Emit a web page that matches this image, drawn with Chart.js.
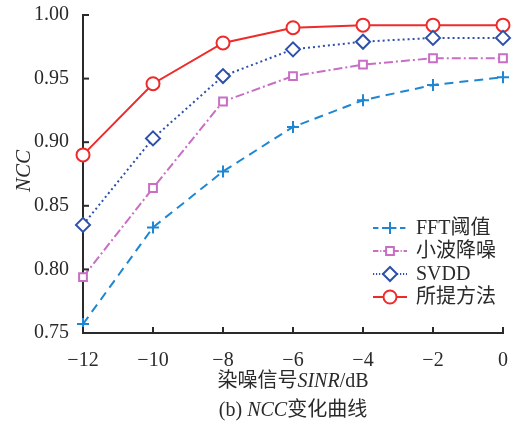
<!DOCTYPE html>
<html>
<head>
<meta charset="utf-8">
<script src="https://cdn.jsdelivr.net/npm/chart.js@4/dist/chart.umd.min.js"></script>
<style>
	body { margin: 0; background: #fff; }
	#wrap { width: 513px; height: 427px; }
</style>
</head>
<body>
<div id="wrap"><canvas id="c"></canvas></div>
<script>
const snr = [-12, -10, -8, -6, -4, -2, 0];
const fftVals = [0.757, 0.833, 0.877, 0.912, 0.933, 0.945, 0.951];
const waveletVals = [0.794, 0.864, 0.932, 0.952, 0.961, 0.966, 0.966];
const svddVals = [0.835, 0.903, 0.952, 0.973, 0.979, 0.982, 0.982];
const proposedVals = [0.890, 0.946, 0.978, 0.990, 0.992, 0.992, 0.992];
const names = ["FFT阈值", "小波降噪", "SVDD", "所提方法"];
const yTicks = [0.75, 0.80, 0.85, 0.90, 0.95, 1.00];

const serif = '"Liberation Serif", "Noto Sans CJK SC", serif';
const ink = '#2a2a2a';

const pts = vals => vals.map((v, i) => ({x: snr[i], y: v}));

const datasets = [
	{
		label: names[0], data: pts(fftVals),
		borderColor: '#1f87d2', borderWidth: 2, borderDash: [9, 6],
		pointStyle: 'cross', pointRadius: 6, pointBorderWidth: 2,
		pointBorderColor: '#1f87d2', pointBackgroundColor: '#1f87d2',
	},
	{
		label: names[1], data: pts(waveletVals),
		borderColor: '#c86ec4', borderWidth: 2, borderDash: [9, 3, 2, 3],
		pointStyle: 'rect', pointRadius: 5.5, pointBorderWidth: 2,
		pointBorderColor: '#c86ec4', pointBackgroundColor: '#fff',
	},
	{
		label: names[2], data: pts(svddVals),
		borderColor: '#2d50aa', borderWidth: 2, borderDash: [2, 3],
		pointStyle: 'rectRot', pointRadius: 7, pointBorderWidth: 2,
		pointBorderColor: '#2d50aa', pointBackgroundColor: '#fff',
	},
	{
		label: names[3], data: pts(proposedVals),
		borderColor: '#ee2b2b', borderWidth: 2,
		pointStyle: 'circle', pointRadius: 6.5, pointBorderWidth: 2,
		pointBorderColor: '#ee2b2b', pointBackgroundColor: '#fff',
	},
];
datasets.forEach(d => { d.clip = false; d.tension = 0; d.fill = false; });

// text with italic pieces, centered at x
function richText(ctx, parts, cx, cy, size) {
	const fonts = parts.map(p => (p[1] ? 'italic ' : '') + size + 'px ' + serif);
	let total = 0;
	const widths = parts.map((p, i) => { ctx.font = fonts[i]; const w = ctx.measureText(p[0]).width; total += w; return w; });
	let x = cx - total / 2;
	ctx.textBaseline = 'middle';
	ctx.textAlign = 'left';
	parts.forEach((p, i) => { ctx.font = fonts[i]; ctx.fillText(p[0], x, cy); x += widths[i]; });
}

const extras = {
	id: 'extras',
	afterDraw(chart) {
		const ctx = chart.ctx;
		const a = chart.chartArea;
		const xs = chart.scales.x, ys = chart.scales.y;
		ctx.save();
		// inward ticks
		ctx.strokeStyle = ink;
		ctx.lineWidth = 2;
		xs.ticks.forEach(t => {
			const px = xs.getPixelForValue(t.value);
			ctx.beginPath(); ctx.moveTo(px, a.bottom); ctx.lineTo(px, a.bottom - 6); ctx.stroke();
		});
		ys.ticks.forEach(t => {
			const py = ys.getPixelForValue(t.value);
			ctx.beginPath(); ctx.moveTo(a.left, py); ctx.lineTo(a.left + 6, py); ctx.stroke();
		});

		// legend
		const lx = 373, ly = 228, step = 23;
		chart.data.datasets.forEach((d, i) => {
			const y = ly + i * step;
			ctx.strokeStyle = d.borderColor;
			ctx.lineWidth = 2;
			ctx.setLineDash(d.borderDash ? d.borderDash.map(v => v * 0.6) : []);
			ctx.beginPath(); ctx.moveTo(lx, y); ctx.lineTo(lx + 34, y); ctx.stroke();
			ctx.setLineDash([]);
			ctx.fillStyle = d.pointBackgroundColor;
			ctx.strokeStyle = d.pointBorderColor;
			Chart.helpers.drawPoint(ctx, {pointStyle: d.pointStyle, radius: d.pointRadius, borderWidth: 2}, lx + 17, y);
			ctx.fillStyle = ink;
			ctx.font = '20px ' + serif;
			ctx.textAlign = 'left';
			ctx.textBaseline = 'middle';
			ctx.fillText(d.label, lx + 43, y + 1);
		});

		// axis titles and caption
		ctx.fillStyle = ink;
		richText(ctx, [["染噪信号", false], ["SINR", true], ["/dB", false]], 293, 382, 20);
		richText(ctx, [["(b) ", false], ["NCC", true], ["变化曲线", false]], 293, 411, 20);
		ctx.translate(24, 171);
		ctx.rotate(-Math.PI / 2);
		richText(ctx, [["NCC", true]], 0, 0, 21);
		ctx.restore();
	}
};

new Chart('c', {
	type: 'line',
	data: {datasets: datasets},
	options: {
		responsive: true,
		maintainAspectRatio: false,
		animation: false,
		layout: {padding: {top: 15, right: 10, bottom: 0, left: 0}},
		plugins: {legend: {display: false}, tooltip: {enabled: false}},
		scales: {
			x: {
				type: 'linear', min: -12, max: 0,
				afterFit: s => { s.height = 94; s.paddingRight = 0; s.paddingLeft = 0; },
				afterBuildTicks: s => { s.ticks = snr.map(v => ({value: v})); },
				grid: {display: false},
				border: {display: true, color: ink, width: 2},
				ticks: {
					color: ink, padding: 8, font: {family: serif, size: 20},
					callback: v => (v < 0 ? '\u2212' + Math.abs(v) : '' + v),
				},
			},
			y: {
				min: 0.75, max: 1.0,
				afterFit: s => { s.width = 83; s.paddingTop = 0; s.paddingBottom = 0; },
				afterBuildTicks: s => { s.ticks = yTicks.map(v => ({value: v})); },
				grid: {display: false},
				border: {display: true, color: ink, width: 2},
				ticks: {
					color: ink, padding: 6, font: {family: serif, size: 20},
					callback: v => Number(v).toFixed(2),
				},
			},
		},
	},
	plugins: [extras],
});
</script>
</body>
</html>
